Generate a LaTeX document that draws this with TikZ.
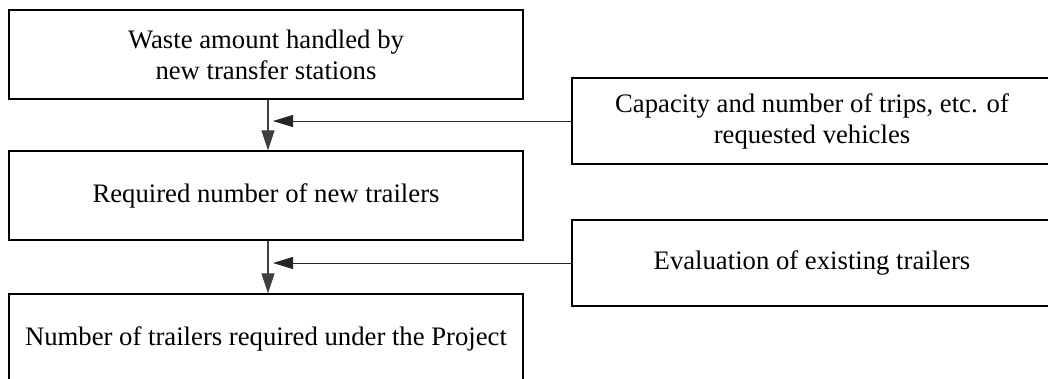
\documentclass[tikz,border=0pt]{standalone}
\usepackage{fontspec}
\setmainfont{Liberation Serif}
\usetikzlibrary{arrows.meta,calc}
\begin{document}
\begin{tikzpicture}[x=1bp,y=-1bp,
  box/.style={draw=black, line width=1.3bp, rectangle, inner sep=0pt,
    align=center, font=\fontsize{26.8}{31}\selectfont},
  flow/.style={draw=black!75, line width=1.1bp, -{Triangle[length=20bp,width=13bp]}},
  feed/.style={draw=black!85, line width=1bp, -{Triangle[length=20bp,width=12bp]}}]
  \useasboundingbox (0,0) rectangle (1048,378);
  % main chain of steps
  \node[box, minimum width=514bp, minimum height=89bp] (b1) at (266,54.5)
    {Waste amount handled by\\new transfer stations};
  \node[box, minimum width=514bp, minimum height=89bp] (b2) at (266,195.5)
    {Required number of new trailers};
  \node[box, minimum width=514bp, minimum height=89bp] (b3) at (266,338.5)
    {Number of trailers required under the Project};
  % side inputs
  \node[box, minimum width=480bp, minimum height=86bp] (r1) at (812,121)
    {Capacity and number of trips, etc. of\\requested vehicles};
  \node[box, minimum width=480bp, minimum height=86bp] (r2) at (812,263)
    {Evaluation of existing trailers};
  % connectors
  \draw[flow] ($(b1.south)+(2,0)$) -- ($(b2.north)+(2,0)$);
  \draw[flow] ($(b2.south)+(2,0)$) -- ($(b3.north)+(2,0)$);
  \coordinate (j1) at ($(r1.west -| b1.south)+(7,0)$);
  \coordinate (j2) at ($(r2.west -| b2.south)+(7,0)$);
  \draw[feed] (r1.west) -- (j1);
  \draw[feed] (r2.west) -- (j2);
\end{tikzpicture}
\end{document}
